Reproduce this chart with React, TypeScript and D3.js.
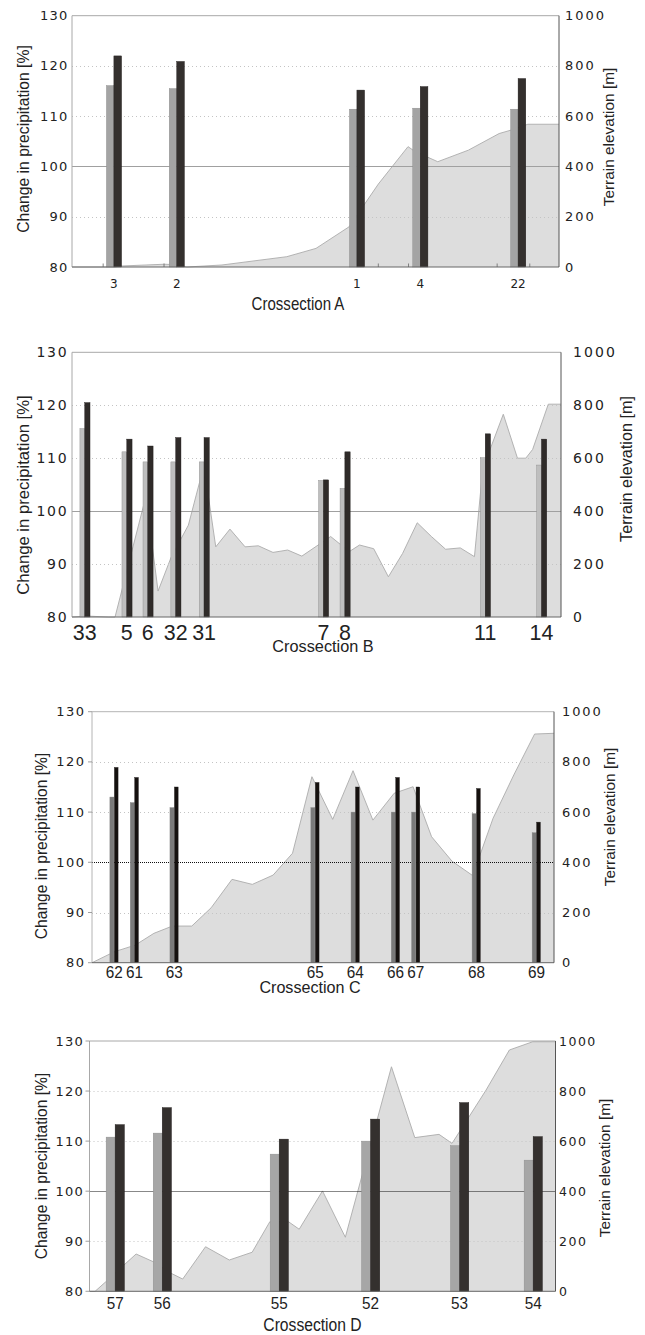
import React from "react";
import * as d3 from "d3";

// ---------------- data ----------------
const leftTicks = [80, 90, 100, 110, 120, 130];
const rightTicks = [0, 200, 400, 600, 800, 1000];

// Crossection A
const stationsA = ["3", "2", "1", "4", "22"];
const distA = [8.6, 21.5, 58.5, 71.5, 91.6];
const refA = [116.1, 115.5, 111.4, 111.6, 111.4];
const scenA = [122.0, 120.9, 115.2, 115.9, 117.5];
const terrainDistA = [0, 8.6, 10.2, 18.9, 20.5, 23.6, 30.8, 44.1, 50.1, 56.9, 62.9, 69.0, 70.4, 75.1, 81.4, 87.7, 90.2, 93.6, 100];
const terrainElevA = [0, 0, 4, 11, 10, 0, 8, 41, 74, 160, 330, 479, 460, 419, 465, 531, 545, 568, 568];
const tickMarksA = [6.4, 18.9, 62.9, 69.1, 87.3, 94.0];

// Crossection B
const stationsB = ["33", "5", "6", "32", "31", "7", "8", "11", "14"];
const distB = [2.6, 11.2, 15.5, 21.2, 27.0, 51.4, 55.8, 84.5, 96.0];
const refB = [115.6, 111.2, 109.3, 109.3, 109.3, 105.8, 104.3, 110.1, 108.7];
const scenB = [120.5, 113.6, 112.3, 113.9, 113.9, 105.9, 111.2, 114.6, 113.6];
const terrainDistB = [0, 2.5, 3.7, 7.4, 8.8, 15.1, 17.6, 20.3, 23.8, 26.2, 27.3, 29.4, 32.3, 35.4, 38.1, 41.1, 44.1, 47.0, 52.9, 56.7, 58.8, 61.7, 64.7, 67.6, 70.6, 73.5, 76.4, 79.4, 82.3, 84.0, 88.2, 91.1, 92.8, 94.2, 97.4, 100];
const terrainElevB = [0, 3, 3, 0, 0, 455, 98, 227, 347, 517, 530, 265, 332, 265, 269, 244, 253, 230, 304, 247, 272, 258, 152, 240, 356, 304, 256, 261, 228, 560, 766, 600, 600, 633, 804, 804];

// Crossection C
const stationsC = ["62", "61", "63", "65", "64", "66", "67", "68", "69"];
const distC = [4.8, 9.2, 17.8, 48.3, 57.0, 65.7, 70.1, 83.2, 96.2];
const refC = [113.0, 111.9, 110.9, 110.9, 110.0, 110.0, 110.0, 109.7, 105.9];
const scenC = [118.9, 116.9, 115.0, 115.9, 115.0, 116.9, 115.0, 114.7, 108.0];
const terrainDistC = [0, 4.9, 9.35, 13.4, 17.4, 21.6, 25.8, 30.3, 34.7, 39.2, 43.4, 47.6, 52.1, 56.5, 60.8, 65.4, 69.5, 73.5, 77.9, 82.4, 86.8, 91.3, 95.8, 100];
const terrainElevC = [0, 44, 70, 117, 146, 146, 219, 332, 312, 349, 436, 741, 571, 765, 568, 675, 701, 502, 405, 347, 575, 748, 911, 914];

// Crossection D
const stationsD = ["57", "56", "55", "52", "53", "54"];
const distD = [5.5, 15.6, 40.7, 60.3, 79.4, 95.2];
const refD = [110.8, 111.6, 107.4, 110.0, 109.1, 106.2];
const scenD = [113.3, 116.7, 110.4, 114.4, 117.7, 110.9];
const terrainDistD = [0, 1.2, 3.5, 7.4, 10.0, 13.7, 17.5, 20.0, 24.9, 30.0, 34.9, 38.7, 42.7, 45.0, 50.0, 54.9, 64.8, 69.8, 75.0, 77.8, 85.1, 90.1, 95.1, 100];
const terrainElevD = [0, 0, 38, 105, 149, 118, 72, 49, 178, 125, 156, 278, 278, 248, 401, 216, 897, 614, 627, 591, 804, 964, 997, 997];

// ---------------- layout ----------------
const SANS = "'Liberation Sans', Arial, sans-serif";
const WIDE = "'DejaVu Sans', Verdana, sans-serif";

interface Layout {
    top: number; bottom: number; left: number; right: number;
    lightW: number; darkW: number; gap: number;
    lightFill: string; darkFill: string;
    leftFont: number; leftLs: number; leftLabelX: number;
    rightFont: number; rightLs: number; rightLabelX: number;
    leftTitle: [number, number, number];
    rightTitle: [number, number, number];
    xFont: string; xSize: number; xSx: number; xY: number;
    cap: [number, number, number, number];
    dotted100: boolean;
    frameColor: string;
    yTicks: boolean;
}

interface PanelProps {
    caption: string;
    stations: string[];
    dist: number[];
    ref: number[];
    scen: number[];
    tDist: number[];
    tElev: number[];
    marks?: number[];
    L: Layout;
}

// snap a horizontal line to the pixel grid so 1px dotted lines stay crisp
const crisp = (v: number) => Math.round(v) + 0.5;

function Panel(props: PanelProps) {
    const { L } = props;
    const x = d3.scaleLinear([0, 100], [L.left, L.right]);
    const y = d3.scaleLinear([80, 130], [L.bottom, L.top]);
    const yR = d3.scaleLinear([0, 1000], [L.bottom, L.top]);

    const terrain = d3.range(props.tDist.length).map((i) => [props.tDist[i], props.tElev[i]] as [number, number]);
    const area = d3.area<[number, number]>()
        .x((d) => x(d[0]))
        .y0(L.bottom)
        .y1((d) => yR(d[1]));
    const line = d3.line<[number, number]>()
        .x((d) => x(d[0]))
        .y((d) => yR(d[1]));

    return <g>
        {/* terrain profile */}
        <path d={area(terrain)!} fill="#dddddd" />
        <path d={line(terrain)!} fill="none" stroke="#ababab" strokeWidth={0.9} />

        {/* grid */}
        {leftTicks.filter((t) => t > 80 && t < 130).map((t) => (
            t === 100
                ? <line key={t} x1={L.left} x2={L.right} y1={crisp(y(t))} y2={crisp(y(t))}
                    stroke={L.dotted100 ? "#111" : "#a0a0a0"} strokeWidth={1}
                    strokeDasharray={L.dotted100 ? "1,1" : undefined} />
                : <line key={t} x1={L.left} x2={L.right} y1={crisp(y(t))} y2={crisp(y(t))}
                    stroke="#c4c4c4" strokeWidth={1} strokeDasharray="1,3" />
        ))}

        {/* bars */}
        {props.stations.map((s, i) => (
            <g key={s}>
                <rect x={x(props.dist[i]) - L.lightW - L.gap / 2} width={L.lightW}
                    y={y(props.ref[i])} height={L.bottom - y(props.ref[i])}
                    fill={L.lightFill} stroke="#8a8a8a" strokeWidth={0.4} />
                <rect x={x(props.dist[i]) + L.gap / 2} width={L.darkW}
                    y={y(props.scen[i])} height={L.bottom - y(props.scen[i])}
                    fill={L.darkFill} stroke="#1e1b1a" strokeWidth={0.4} />
            </g>
        ))}

        {/* frame */}
        <line x1={L.left} x2={L.right} y1={L.top} y2={L.top} stroke={L.frameColor} strokeWidth={1} />
        <line x1={L.left} x2={L.left} y1={L.top} y2={L.bottom} stroke={L.frameColor} strokeWidth={1} />
        <line x1={L.left} x2={L.right} y1={L.bottom} y2={L.bottom} stroke="#666" strokeWidth={1} />
        <line x1={L.right} x2={L.right} y1={L.top} y2={L.bottom} stroke="#555" strokeWidth={1} />
        {(props.marks || []).map((m, i) => (
            <line key={i} x1={x(m)} x2={x(m)} y1={L.bottom} y2={L.bottom - 3.5} stroke="#666" strokeWidth={0.8} />
        ))}
        {L.yTicks && leftTicks.map((t) => (
            <line key={t} x1={L.left - 4} x2={L.left} y1={y(t)} y2={y(t)} stroke="#888" strokeWidth={0.8} />
        ))}

        {/* left ticks */}
        {leftTicks.map((t) => (
            <text key={t} x={L.leftLabelX} y={y(t)} dominantBaseline="central" textAnchor="end"
                fontFamily={WIDE} fontSize={L.leftFont} letterSpacing={L.leftLs} fill="#222">{t}</text>
        ))}
        {/* right ticks */}
        {rightTicks.map((t) => (
            <text key={t} x={L.rightLabelX} y={yR(t)} dominantBaseline="central" textAnchor="start"
                fontFamily={WIDE} fontSize={L.rightFont} letterSpacing={L.rightLs} fill="#222">{t}</text>
        ))}

        {/* axis titles */}
        <text transform={`translate(${L.leftTitle[0]},${L.leftTitle[1]}) rotate(-90)`} textAnchor="middle"
            dominantBaseline="central" fontFamily={SANS} fontSize={L.leftTitle[2]} fill="#222">
            Change in precipitation [%]
        </text>
        <text transform={`translate(${L.rightTitle[0]},${L.rightTitle[1]}) rotate(-90)`} textAnchor="middle"
            dominantBaseline="central" fontFamily={SANS} fontSize={L.rightTitle[2]} fill="#222">
            Terrain elevation [m]
        </text>

        {/* station labels */}
        {props.stations.map((s, i) => (
            <text key={s} transform={`translate(${x(props.dist[i])},${L.xY}) scale(${L.xSx},1)`}
                textAnchor="middle" fontFamily={L.xFont} fontSize={L.xSize} fill="#222">{s}</text>
        ))}
        <text transform={`translate(${L.cap[0]},${L.cap[1]}) scale(${L.cap[3]},1)`} textAnchor="middle"
            fontFamily={SANS} fontSize={L.cap[2]} fill="#222">{props.caption}</text>
    </g>;
}

const layoutA: Layout = {
    top: 15.7, bottom: 267, left: 72, right: 559,
    lightW: 7.5, darkW: 7.7, gap: 0, lightFill: "#a4a4a4", darkFill: "#34302e",
    leftFont: 13, leftLs: 1.2, leftLabelX: 68.5, rightFont: 13, rightLs: 2, rightLabelX: 565,
    leftTitle: [23, 139, 15.7], rightTitle: [608, 137, 15.4],
    xFont: WIDE, xSize: 12, xSx: 1, xY: 288.3,
    cap: [298, 310, 17.5, 0.86], dotted100: false, frameColor: "#a8a8a8", yTicks: false,
};
const layoutB: Layout = {
    top: 352.3, bottom: 617, left: 72, right: 561,
    lightW: 4.8, darkW: 5.3, gap: 0, lightFill: "#bebebe", darkFill: "#2f2b29",
    leftFont: 14, leftLs: 1.8, leftLabelX: 68.5, rightFont: 14, rightLs: 2.1, rightLabelX: 573,
    leftTitle: [23.4, 495, 16.7], rightTitle: [626, 469, 16.2],
    xFont: SANS, xSize: 21.4, xSx: 1, xY: 639.5,
    cap: [323, 652, 16.8, 0.97], dotted100: false, frameColor: "#a8a8a8", yTicks: false,
};
const layoutC: Layout = {
    top: 711.7, bottom: 962.7, left: 92, right: 554,
    lightW: 4.1, darkW: 3.7, gap: 0.4, lightFill: "#7a7a7a", darkFill: "#15110f",
    leftFont: 13, leftLs: 1.5, leftLabelX: 85.5, rightFont: 13, rightLs: 1.9, rightLabelX: 562,
    leftTitle: [41, 846, 15.6], rightTitle: [609, 817, 15.4],
    xFont: SANS, xSize: 17, xSx: 0.9, xY: 978,
    cap: [310, 993, 16.8, 0.96], dotted100: true, frameColor: "#b4b4b4", yTicks: true,
};
const layoutD: Layout = {
    top: 1041, bottom: 1291.3, left: 89.5, right: 555.5,
    lightW: 9, darkW: 9.3, gap: 0, lightFill: "#a6a6a6", darkFill: "#34302e",
    leftFont: 13, leftLs: 1.2, leftLabelX: 84, rightFont: 12.5, rightLs: 1.5, rightLabelX: 559,
    leftTitle: [41, 1166, 15.6], rightTitle: [604, 1168, 15.4],
    xFont: SANS, xSize: 17, xSx: 0.9, xY: 1309,
    cap: [312.5, 1330.5, 18, 0.87], dotted100: true, frameColor: "#a8a8a8", yTicks: true,
};

export default function App() {
    return <svg width={645} height={1335} style={{ position: "absolute", left: 0, top: 0, background: "#fff" }}>
        <rect width={645} height={1335} fill="#fff" />
        <Panel caption="Crossection A" stations={stationsA} dist={distA} ref={refA} scen={scenA}
            tDist={terrainDistA} tElev={terrainElevA} marks={tickMarksA} L={layoutA} />
        <Panel caption="Crossection B" stations={stationsB} dist={distB} ref={refB} scen={scenB}
            tDist={terrainDistB} tElev={terrainElevB} L={layoutB} />
        <Panel caption="Crossection C" stations={stationsC} dist={distC} ref={refC} scen={scenC}
            tDist={terrainDistC} tElev={terrainElevC} L={layoutC} />
        <Panel caption="Crossection D" stations={stationsD} dist={distD} ref={refD} scen={scenD}
            tDist={terrainDistD} tElev={terrainElevD} L={layoutD} />
    </svg>;
}
